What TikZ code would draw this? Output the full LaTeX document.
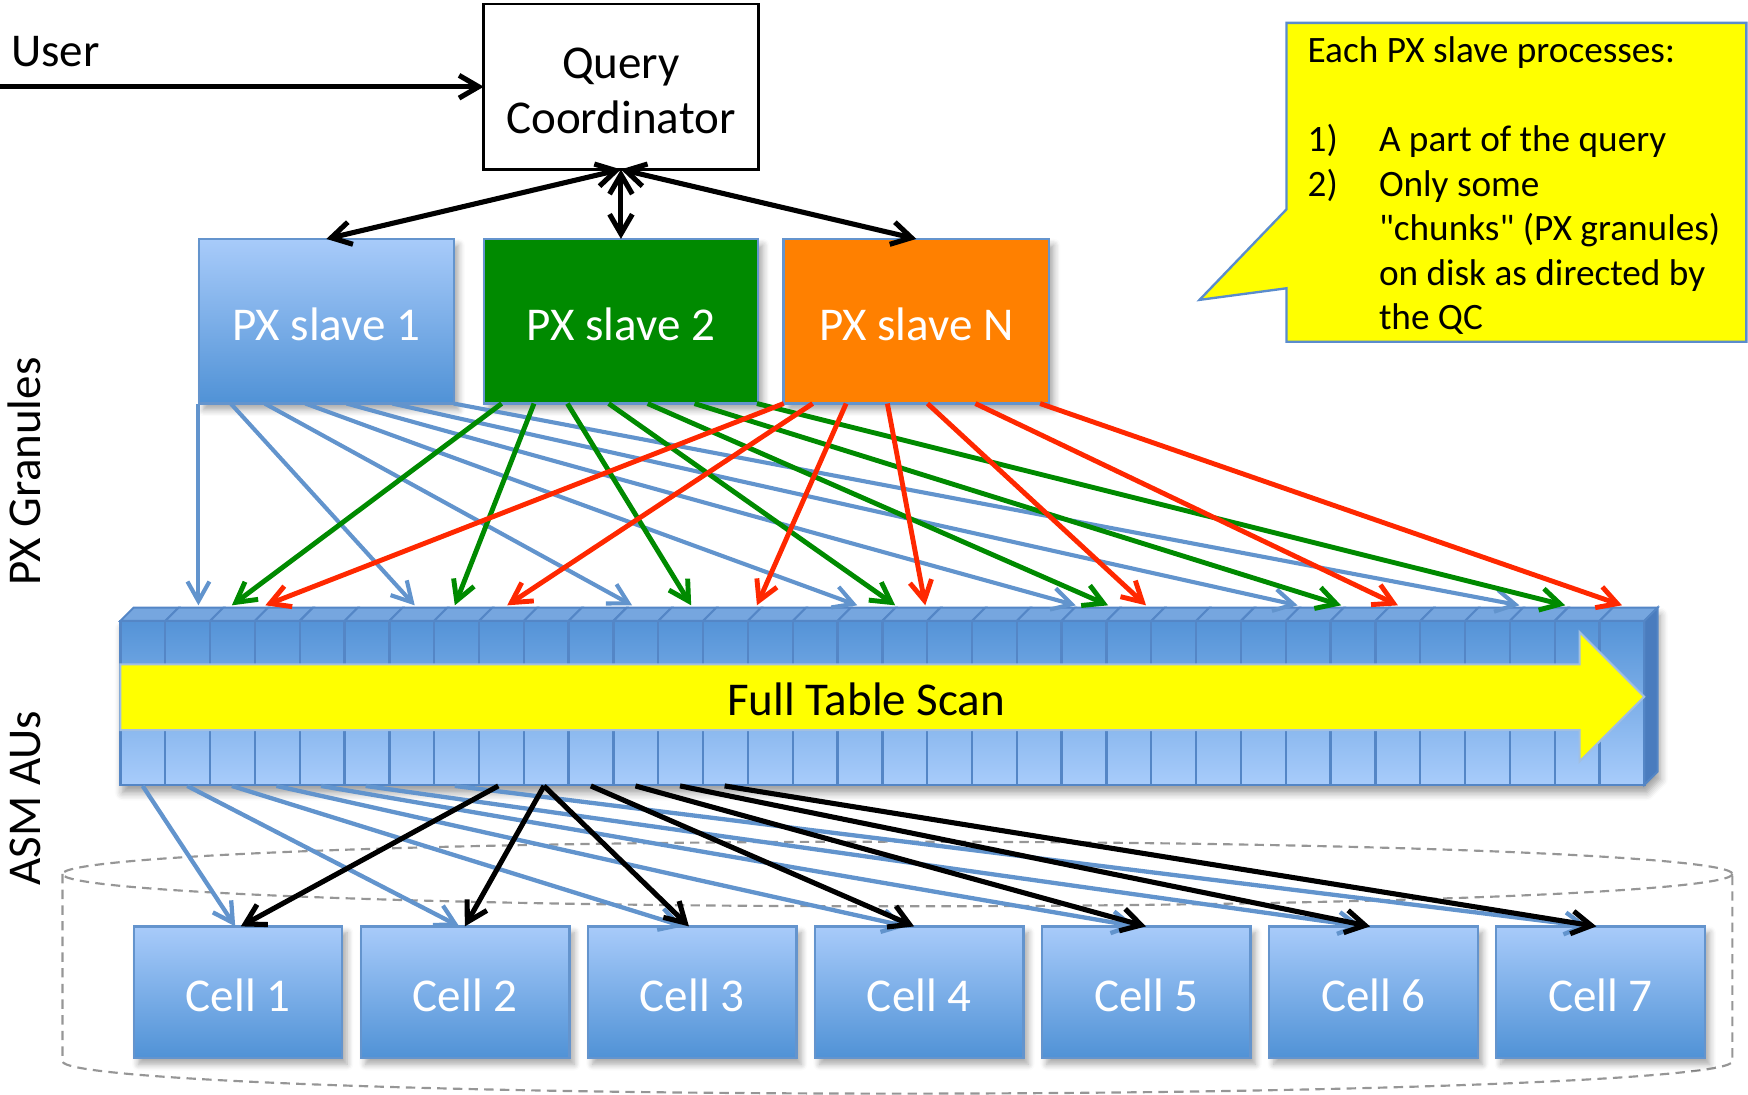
\documentclass[tikz,border=0pt]{standalone}
\usepackage{fontspec}
\setmainfont{Carlito}
\newfontfamily\plainquotes{Carlito}[Ligatures=TeXOff]
\usetikzlibrary{arrows.meta,shadows.blur,calc}

\definecolor{flowblue}{RGB}{98,148,205}
\definecolor{flowgreen}{RGB}{0,138,0}
\definecolor{flowred}{RGB}{255,40,0}
\definecolor{slaveorange}{RGB}{255,128,0}
\definecolor{noteyellow}{RGB}{255,255,0}
\definecolor{boxedge}{RGB}{100,148,205}
\definecolor{gradtop}{RGB}{168,203,250}
\definecolor{gradbot}{RGB}{80,146,214}
\definecolor{aufront}{RGB}{84,147,215}
\definecolor{aufrontlow}{RGB}{168,204,251}
\definecolor{autop}{RGB}{118,166,223}
\definecolor{auedge}{RGB}{84,134,198}
\definecolor{auside}{RGB}{74,124,190}
\definecolor{cylgray}{RGB}{150,150,150}
\definecolor{calloutedge}{RGB}{90,140,205}

\begin{document}
\begin{tikzpicture}[x=0.01cm, y=-0.01cm,
  font=\fontsize{12}{14.5}\selectfont,
  every node/.style={inner sep=0pt, outer sep=0pt},
  softshadow/.style={blur shadow={shadow xshift=1.2pt, shadow yshift=-1.6pt,
      shadow blur steps=6, shadow blur radius=1.6pt, shadow opacity=35}},
  boxtext/.style={text=white, text height=10pt, text depth=0pt},
  gradbox/.style={draw=boxedge, line width=0.6pt, top color=gradtop,
      bottom color=gradbot, boxtext, softshadow},
  flatbox/.style={draw=boxedge, line width=0.6pt, boxtext, softshadow},
  blkline/.style={draw=black, line width=1.3pt},
  blkhead/.style={-{Straight Barb[length=5pt,width=5.8pt]}},
  blkboth/.style={{Straight Barb[length=5pt,width=5.8pt]}-{Straight Barb[length=5pt,width=5.8pt]}},
  flowhead/.style={-{Straight Barb[length=5pt,width=5.6pt]}},
  blueflow/.style={draw=flowblue, line width=1.05pt, flowhead},
  greenflow/.style={draw=flowgreen, line width=1.25pt, flowhead},
  redflow/.style={draw=flowred, line width=1.25pt, flowhead},
  cellflow/.style={draw=flowblue, line width=1.1pt, flowhead},
  blackflow/.style={blkline, blkhead},
  cylline/.style={draw=cylgray, line width=0.55pt, dash pattern=on 2.4pt off 1.6pt},
  calltext/.style={anchor=base west, font=\fontsize{9.5}{11.4}\selectfont},
  sidelabel/.style={rotate=90, anchor=base}
]
\useasboundingbox (0,0) rectangle (1568,982);

% ---------- storage cylinder (dashed) ----------
\draw[cylline] (805,784) ellipse [x radius=749, y radius=29];
\draw[cylline] (56,784) -- (56,952) arc [start angle=180, end angle=0, x radius=749, y radius=29] -- (1554,784);

% ---------- query coordinator and user ----------
\node[draw=black, line width=0.7pt, fill=white, minimum width=2.46cm, minimum height=1.483cm] (qc) at (557,77.8) {};
\node[anchor=base] (qcline1) at (557,70) {Query};
\node[anchor=base] (qcline2) at (557,120) {Coordinator};
\node[anchor=base west] (user) at (10,60) {User};
\coordinate (userstart) at (0,77.8);
\draw[blackflow] (userstart) -- (qc.west);

% ---------- PX slaves ----------
\node[gradbox, minimum width=2.285cm, minimum height=1.475cm] (px1) at (292.75,288.1) {PX slave 1};
\node[flatbox, fill=flowgreen, minimum width=2.46cm, minimum height=1.475cm] (px2) at (557,288.1) {PX slave 2};
\node[flatbox, fill=slaveorange, minimum width=2.38cm, minimum height=1.475cm] (pxn) at (822,288.1) {PX slave N};

\draw[blkline, blkboth] (qc.south) -- (px1.north);
\draw[blkline, blkboth] (qc.south) -- (px2.north);
\draw[blkline, blkboth] (qc.south) -- (pxn.north);

% ---------- callout ----------
\filldraw[fill=noteyellow, draw=calloutedge, line width=0.6pt]
  (1154,20.5) -- (1566.5,20.5) -- (1566.5,306.5) -- (1154,306.5) -- (1154,258.6)
  -- (1076,269) -- (1154,187.8) -- cycle;
\node[calltext] (note0) at (1173,56) {Each PX slave processes:};
\node[calltext] (note1n) at (1173,136) {1)};
\node[calltext] (note1) at (1237,136) {A part of the query};
\node[calltext] (note2n) at (1173,176) {2)};
\node[calltext] (note2) at (1237,176) {Only some};
\node[calltext] (note3) at (1237,216) {{\plainquotes"}chunks{\plainquotes"} (PX granules)};
\node[calltext] (note4) at (1237,256) {on disk as directed by};
\node[calltext] (note5) at (1237,296) {the QC};

% ---------- side labels ----------
\node[sidelabel] (granlabel) at (36,423) {PX Granules};
\node[sidelabel] (aulabel) at (36,716) {ASM AUs};

% ---------- cells ----------
\foreach \k in {1,...,7} {
  \pgfmathsetmacro\cx{213.5+203.7*(\k-1)}
  \node[gradbox, minimum width=1.87cm, minimum height=1.18cm] (cell\k) at (\cx,890) {Cell \k};
}

% ---------- ASM allocation units strip ----------
\path[fill=white, blur shadow={shadow xshift=0.6pt, shadow yshift=-2pt, shadow blur steps=6, shadow blur radius=2pt, shadow opacity=40}]
  (108,557) -- (120,545) -- (1487,545) -- (1487,692) -- (1475,704) -- (108,704) -- cycle;
\foreach \i in {0,...,33} {
  \pgfmathsetmacro\xa{108+40.206*\i}
  \pgfmathsetmacro\xb{\xa+40.206}
  \path[draw=auedge, line width=0.6pt, top color=aufront, bottom color=aufrontlow] (\xa,557) rectangle (\xb,704);
  \filldraw[fill=autop, draw=auedge, line width=0.5pt] (\xa,557) -- ({\xa+12},545) -- ({\xb+12},545) -- (\xb,557) -- cycle;
}
\filldraw[fill=auside, draw=auedge, line width=0.5pt] (1475,557) -- (1487,545) -- (1487,692) -- (1475,704) -- cycle;

% full table scan arrow
\filldraw[fill=noteyellow, draw=boxedge!60, line width=0.5pt]
  (108,596) -- (1417,596) -- (1417,567) -- (1475,625) -- (1417,683) -- (1417,655) -- (108,655) -- cycle;
\node[anchor=base] (scanlabel) at (777,641.5) {Full Table Scan};

% ---------- PX slaves to granules ----------
\foreach \s/\e [count=\k] in {178/178, 207/372, 237.5/567, 274/769, 311/965, 352/1164, 407/1363} {
  \coordinate (bs\k) at (\s,362);
  \coordinate (be\k) at (\e,543);
  \draw[blueflow] (bs\k) -- (be\k);
}
\foreach \s/\e [count=\k] in {450/208, 479/408, 509/620, 546/803, 581/994, 623/1203, 679/1404} {
  \coordinate (gs\k) at (\s,362);
  \coordinate (ge\k) at (\e,543);
  \draw[greenflow] (gs\k) -- (ge\k);
}
\foreach \s/\e [count=\k] in {703/238, 729/455, 759/679, 796/830, 832/1028, 875/1254, 933/1455} {
  \coordinate (rs\k) at (\s,362);
  \coordinate (re\k) at (\e,543);
  \draw[redflow] (rs\k) -- (re\k);
}

% ---------- allocation units to cells ----------
\foreach \s/\e [count=\k] in {128/211, 168/412, 208/613, 248/813, 288/1019, 328/1222, 408/1425} {
  \coordinate (us\k) at (\s,705);
  \coordinate (ue\k) at (\e,831);
  \draw[cellflow] (us\k) -- (ue\k);
}
\foreach \s/\e [count=\k] in {447/216, 488/417, 488/618, 530/820, 570/1028, 610/1229, 650/1432} {
  \coordinate (ks\k) at (\s,705);
  \coordinate (ke\k) at (\e,831);
  \draw[blackflow] (ks\k) -- (ke\k);
}
\end{tikzpicture}
\end{document}
